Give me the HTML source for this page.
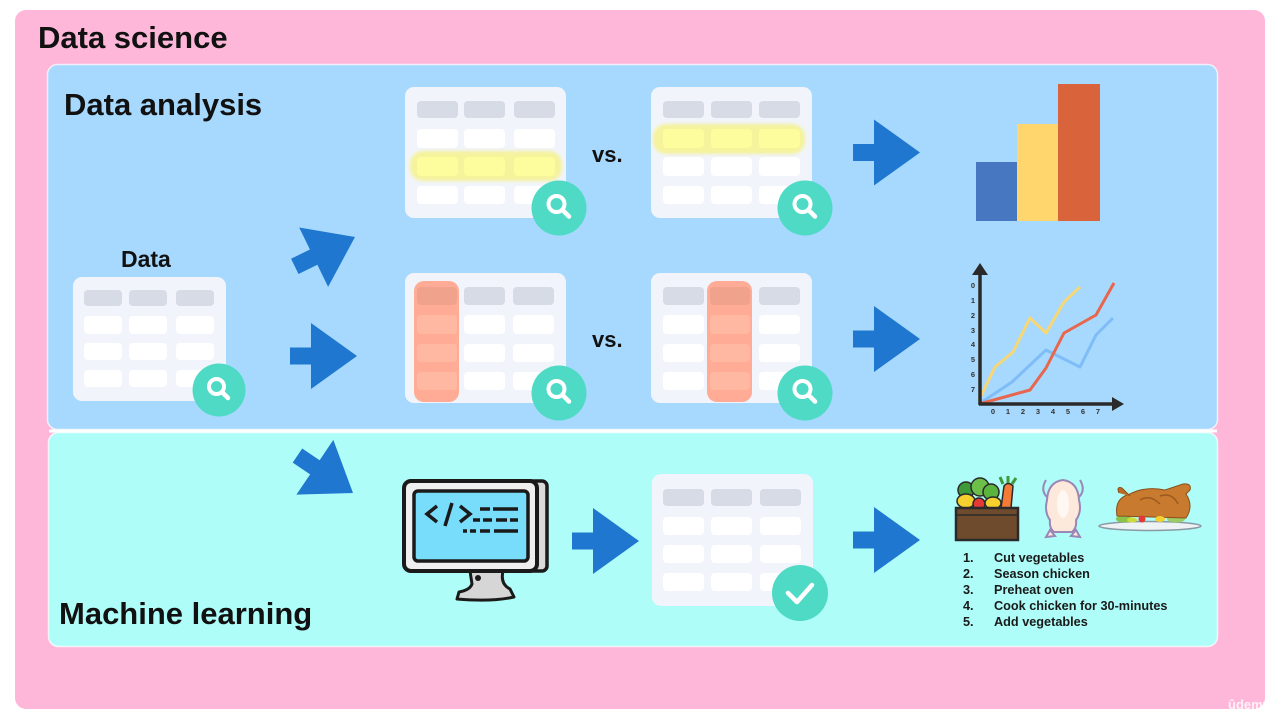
<!DOCTYPE html>
<html><head><meta charset="utf-8"><style>
html,body{margin:0;padding:0;background:#fff;width:1280px;height:720px;overflow:hidden}
svg{display:block}
text{font-family:"Liberation Sans",Arial,sans-serif;font-weight:bold}
</style></head><body>
<svg width="1280" height="720" viewBox="0 0 1280 720" xmlns="http://www.w3.org/2000/svg">
<defs>
<polygon id="arr" points="0,0 -46,-33 -46,-8.5 -67,-8.5 -67,8.5 -46,8.5 -46,33" fill="#1f77cf"/>
<filter id="soft" x="-10%" y="-30%" width="120%" height="160%"><feGaussianBlur stdDeviation="1.5"/></filter>
</defs>
<rect x="0" y="0" width="1280" height="720" fill="#fff"/>
<!-- pink -->
<rect x="15" y="10" width="1250" height="699" rx="11" fill="#ffb7d9"/>
<!-- blue -->
<rect x="47.5" y="64.5" width="1170" height="365" rx="10" fill="#a6d9fd" stroke="#fff" stroke-opacity="0.7" stroke-width="1.5"/>
<!-- cyan -->
<rect x="48.5" y="432.5" width="1169" height="214" rx="10" fill="#aefdf8" stroke="#fff" stroke-opacity="0.7" stroke-width="1.5"/>
<rect x="49" y="429.5" width="1168" height="3" fill="#fff"/>

<text x="38" y="48" font-size="31" fill="#111">Data science</text>
<text x="64" y="115" font-size="31" fill="#111">Data analysis</text>
<text x="59" y="624" font-size="31" fill="#111">Machine learning</text>
<text x="121" y="267" font-size="23" fill="#111">Data</text>
<text x="592" y="162" font-size="22" fill="#111">vs.</text>
<text x="592" y="347" font-size="22" fill="#111">vs.</text>

<!-- Card A: data -->
<g>
<rect x="73" y="277" width="153" height="124" rx="9" fill="#f1f4fa"/>
<g fill="#d7dbe5"><rect x="84" y="290" width="38" height="16" rx="4"/><rect x="129" y="290" width="38" height="16" rx="4"/><rect x="176" y="290" width="38" height="16" rx="4"/></g>
<g fill="#fff">
<rect x="84" y="316" width="38" height="18" rx="4"/><rect x="129" y="316" width="38" height="18" rx="4"/><rect x="176" y="316" width="38" height="18" rx="4"/>
<rect x="84" y="343" width="38" height="17" rx="4"/><rect x="129" y="343" width="38" height="17" rx="4"/><rect x="176" y="343" width="38" height="17" rx="4"/>
<rect x="84" y="370" width="38" height="17" rx="4"/><rect x="129" y="370" width="38" height="17" rx="4"/><rect x="176" y="370" width="38" height="17" rx="4"/>
</g>
</g>

<!-- Card B -->
<g>
<rect x="405" y="87" width="161" height="131" rx="9" fill="#f1f4fa"/>
<g fill="#d7dbe5"><rect x="417" y="101" width="41" height="17" rx="4"/><rect x="464" y="101" width="41" height="17" rx="4"/><rect x="514" y="101" width="41" height="17" rx="4"/></g>
<g fill="#fff">
<rect x="417" y="129" width="41" height="19" rx="4"/><rect x="464" y="129" width="41" height="19" rx="4"/><rect x="514" y="129" width="41" height="19" rx="4"/>
<rect x="417" y="186" width="41" height="18" rx="4"/><rect x="464" y="186" width="41" height="18" rx="4"/><rect x="514" y="186" width="41" height="18" rx="4"/>
</g>
<rect x="410" y="151" width="152" height="30" rx="13" fill="#f5f39c" filter="url(#soft)"/>
<g fill="#fdfd9e"><rect x="417" y="157" width="41" height="19" rx="4"/><rect x="464" y="157" width="41" height="19" rx="4"/><rect x="514" y="157" width="41" height="19" rx="4"/></g>
</g>

<!-- Card C -->
<g>
<rect x="651" y="87" width="161" height="131" rx="9" fill="#f1f4fa"/>
<g fill="#d7dbe5"><rect x="663" y="101" width="41" height="17" rx="4"/><rect x="711" y="101" width="41" height="17" rx="4"/><rect x="759" y="101" width="41" height="17" rx="4"/></g>
<g fill="#fff">
<rect x="663" y="157" width="41" height="19" rx="4"/><rect x="711" y="157" width="41" height="19" rx="4"/><rect x="759" y="157" width="41" height="19" rx="4"/>
<rect x="663" y="186" width="41" height="18" rx="4"/><rect x="711" y="186" width="41" height="18" rx="4"/><rect x="759" y="186" width="41" height="18" rx="4"/>
</g>
<rect x="653" y="124" width="152" height="30" rx="13" fill="#f5f39c" filter="url(#soft)"/>
<g fill="#fdfd9e"><rect x="663" y="129" width="41" height="19" rx="4"/><rect x="711" y="129" width="41" height="19" rx="4"/><rect x="759" y="129" width="41" height="19" rx="4"/></g>
</g>

<!-- Card D -->
<g>
<rect x="405" y="273" width="161" height="130" rx="9" fill="#f1f4fa"/>
<g fill="#d7dbe5"><rect x="464" y="287" width="41" height="18" rx="4"/><rect x="513" y="287" width="41" height="18" rx="4"/></g>
<g fill="#fff">
<rect x="464" y="315" width="41" height="19" rx="4"/><rect x="513" y="315" width="41" height="19" rx="4"/>
<rect x="464" y="344" width="41" height="18" rx="4"/><rect x="513" y="344" width="41" height="18" rx="4"/>
<rect x="464" y="372" width="41" height="18" rx="4"/><rect x="513" y="372" width="41" height="18" rx="4"/>
</g>
<rect x="414" y="281" width="45" height="121" rx="10" fill="#ffab96"/>
<rect x="417" y="287" width="40" height="18" rx="4" fill="#f0a28c"/>
<g fill="#ffb9a2"><rect x="417" y="315" width="40" height="19" rx="4"/><rect x="417" y="344" width="40" height="18" rx="4"/><rect x="417" y="372" width="40" height="18" rx="4"/></g>
</g>

<!-- Card E -->
<g>
<rect x="651" y="273" width="161" height="130" rx="9" fill="#f1f4fa"/>
<g fill="#d7dbe5"><rect x="663" y="287" width="41" height="18" rx="4"/><rect x="759" y="287" width="41" height="18" rx="4"/></g>
<g fill="#fff">
<rect x="663" y="315" width="41" height="19" rx="4"/><rect x="759" y="315" width="41" height="19" rx="4"/>
<rect x="663" y="344" width="41" height="18" rx="4"/><rect x="759" y="344" width="41" height="18" rx="4"/>
<rect x="663" y="372" width="41" height="18" rx="4"/><rect x="759" y="372" width="41" height="18" rx="4"/>
</g>
<rect x="707" y="281" width="45" height="121" rx="10" fill="#ffab96"/>
<rect x="710" y="287" width="40" height="18" rx="4" fill="#f0a28c"/>
<g fill="#ffb9a2"><rect x="710" y="315" width="40" height="19" rx="4"/><rect x="710" y="344" width="40" height="18" rx="4"/><rect x="710" y="372" width="40" height="18" rx="4"/></g>
</g>

<!-- Card F (ML) -->
<g>
<rect x="652" y="474" width="161" height="132" rx="9" fill="#f1f4fa"/>
<g fill="#d7dbe5"><rect x="663" y="489" width="41" height="17" rx="4"/><rect x="711" y="489" width="41" height="17" rx="4"/><rect x="760" y="489" width="41" height="17" rx="4"/></g>
<g fill="#fff">
<rect x="663" y="517" width="41" height="18" rx="4"/><rect x="711" y="517" width="41" height="18" rx="4"/><rect x="760" y="517" width="41" height="18" rx="4"/>
<rect x="663" y="545" width="41" height="18" rx="4"/><rect x="711" y="545" width="41" height="18" rx="4"/><rect x="760" y="545" width="41" height="18" rx="4"/>
<rect x="663" y="573" width="41" height="18" rx="4"/><rect x="711" y="573" width="41" height="18" rx="4"/><rect x="760" y="573" width="41" height="18" rx="4"/>
</g>
</g>

<!-- magnifier badges -->
<g>
<circle cx="219" cy="390" r="26.5" fill="#4fdac5"/>
<circle cx="216.5" cy="386.5" r="7.5" fill="none" stroke="#fff" stroke-width="4"/>
<line x1="222" y1="392" x2="228" y2="398" stroke="#fff" stroke-width="4.5" stroke-linecap="round"/>
</g>
<g>
<circle cx="559" cy="208" r="27.5" fill="#4fdac5"/>
<circle cx="556.5" cy="204" r="8" fill="none" stroke="#fff" stroke-width="4"/>
<line x1="562.5" y1="210" x2="569" y2="216.5" stroke="#fff" stroke-width="4.5" stroke-linecap="round"/>
</g>
<g>
<circle cx="805" cy="208" r="27.5" fill="#4fdac5"/>
<circle cx="802.5" cy="204" r="8" fill="none" stroke="#fff" stroke-width="4"/>
<line x1="808.5" y1="210" x2="815" y2="216.5" stroke="#fff" stroke-width="4.5" stroke-linecap="round"/>
</g>
<g>
<circle cx="559" cy="393" r="27.5" fill="#4fdac5"/>
<circle cx="556.5" cy="389" r="8" fill="none" stroke="#fff" stroke-width="4"/>
<line x1="562.5" y1="395" x2="569" y2="401.5" stroke="#fff" stroke-width="4.5" stroke-linecap="round"/>
</g>
<g>
<circle cx="805" cy="393" r="27.5" fill="#4fdac5"/>
<circle cx="802.5" cy="389" r="8" fill="none" stroke="#fff" stroke-width="4"/>
<line x1="808.5" y1="395" x2="815" y2="401.5" stroke="#fff" stroke-width="4.5" stroke-linecap="round"/>
</g>
<!-- check badge -->
<g>
<circle cx="800" cy="593" r="28" fill="#4fdac5"/>
<polyline points="788,593 797,602 812,585" fill="none" stroke="#fff" stroke-width="4.5" stroke-linecap="round" stroke-linejoin="round"/>
</g>

<!-- arrows -->
<use href="#arr" transform="translate(920,152.5)"/>
<use href="#arr" transform="translate(920,339)"/>
<use href="#arr" transform="translate(357,356)"/>
<use href="#arr" transform="translate(355,237) rotate(-26)"/>
<use href="#arr" transform="translate(353,493) rotate(34)"/>
<use href="#arr" transform="translate(639,541)"/>
<use href="#arr" transform="translate(920,540)"/>

<!-- bar chart -->
<rect x="976" y="162" width="41" height="59" fill="#4677c0"/>
<rect x="1017" y="124" width="41" height="97" fill="#ffd56e"/>
<rect x="1058" y="84" width="42" height="137" fill="#d9633a"/>

<!-- line chart -->
<g>
<polyline points="979,400 995,367 1013,352 1030,318 1046,333 1064,302 1080,287" fill="none" stroke="#f7d675" stroke-width="3" stroke-linejoin="round"/>
<polyline points="979,404 1012,382 1046,350 1080,367 1096,335 1113,318" fill="none" stroke="#7fbdf8" stroke-width="3" stroke-linejoin="round"/>
<polyline points="979,404 1030,390 1046,368 1064,333 1096,315 1114,283" fill="none" stroke="#e8664d" stroke-width="3" stroke-linejoin="round"/>
<line x1="980" y1="273" x2="980" y2="405" stroke="#2a2a2a" stroke-width="3.5"/>
<polygon points="980,263 972,275 988,275" fill="#2a2a2a"/>
<line x1="979" y1="404" x2="1113" y2="404" stroke="#2a2a2a" stroke-width="3.5"/>
<polygon points="1124,404 1112,397 1112,411" fill="#2a2a2a"/>
<g font-size="7.5" fill="#333" text-anchor="middle">
<text x="973" y="288">0</text><text x="973" y="303">1</text><text x="973" y="318">2</text><text x="973" y="333">3</text>
<text x="973" y="347">4</text><text x="973" y="362">5</text><text x="973" y="377">6</text><text x="973" y="392">7</text>
<text x="993" y="414">0</text><text x="1008" y="414">1</text><text x="1023" y="414">2</text><text x="1038" y="414">3</text>
<text x="1053" y="414">4</text><text x="1068" y="414">5</text><text x="1083" y="414">6</text><text x="1098" y="414">7</text>
</g>
</g>

<!-- computer icon -->
<g stroke="#1a1a1a" stroke-linejoin="round">
<path d="M470,571 L503,571 Q500,584 510,589 L514,597 Q492,602 457,599 L459,592 Q470,590 472,584 Z" fill="#d6d6d6" stroke-width="3"/>
<rect x="528" y="481" width="19" height="90" rx="5" fill="#dadada" stroke-width="3.5"/>
<rect x="404" y="481" width="133" height="90" rx="7" fill="#efefef" stroke-width="4"/>
<rect x="414" y="491" width="114" height="70" rx="4" fill="#78dcfb" stroke-width="3.5"/>
</g>
<g fill="none" stroke="#1a1a1a" stroke-width="3.5" stroke-linecap="butt">
<polyline points="437,506 427,514 437,522" stroke-linejoin="miter"/>
<line x1="452" y1="503" x2="445" y2="526"/>
<polyline points="460,506 470,514 460,522" stroke-linejoin="miter"/>
<line x1="480" y1="509" x2="490" y2="509"/><line x1="493" y1="509" x2="518" y2="509"/>
<line x1="473" y1="520" x2="480" y2="520"/><line x1="483" y1="520" x2="492" y2="520"/><line x1="496" y1="520" x2="507" y2="520"/><line x1="510" y1="520" x2="518" y2="520"/>
<line x1="463" y1="531" x2="467" y2="531"/><line x1="470" y1="531" x2="476" y2="531"/><line x1="480" y1="531" x2="490" y2="531"/><line x1="494" y1="531" x2="518" y2="531"/>
</g>
<circle cx="478" cy="578" r="3" fill="#1a1a1a"/>

<!-- vegetables crate -->
<g>
<circle cx="966" cy="490" r="8" fill="#3f9a3a" stroke="#2a2a2a" stroke-width="1.5"/>
<circle cx="980" cy="487" r="9" fill="#6cc04a" stroke="#2a2a2a" stroke-width="1.5"/>
<circle cx="991" cy="492" r="8" fill="#5bb43e" stroke="#2a2a2a" stroke-width="1.5"/>
<path d="M1001,508 L1004,486 Q1008,481 1013,486 L1011,508 Z" fill="#f47a35" stroke="#2a2a2a" stroke-width="1.5"/>
<path d="M1003,484 L1000,477 M1008,483 L1008,476 M1012,484 L1016,478" stroke="#3f9a3a" stroke-width="3"/>
<ellipse cx="966" cy="501" rx="9" ry="7" fill="#f5d02f" stroke="#2a2a2a" stroke-width="1.5"/>
<circle cx="979" cy="504" r="6" fill="#e53935" stroke="#2a2a2a" stroke-width="1.5"/>
<ellipse cx="993" cy="503" rx="8" ry="6" fill="#f5d02f" stroke="#2a2a2a" stroke-width="1.5"/>
<rect x="956" y="508" width="62" height="32" fill="#6e4b2c" stroke="#2a2a2a" stroke-width="2.5"/>
<line x1="956" y1="515" x2="1018" y2="515" stroke="#2a2a2a" stroke-width="1.5"/>
</g>
<!-- raw chicken -->
<g fill="#fde9dc" stroke="#9b86b5" stroke-width="2">
<path d="M1046,480 Q1040,490 1047,497 M1080,480 Q1086,490 1079,497" fill="none"/>
<path d="M1050,530 L1046,537 L1055,536 Z M1076,530 L1080,537 L1071,536 Z"/>
<path d="M1063,480 Q1048,482 1047,500 Q1044,512 1050,520 Q1049,528 1054,532 L1072,532 Q1077,528 1076,520 Q1082,512 1079,500 Q1078,482 1063,480 Z"/>
<ellipse cx="1063" cy="504" rx="6" ry="14" fill="#fff7f2" stroke="none"/>
</g>
<!-- roast chicken -->
<g>
<ellipse cx="1150" cy="526" rx="51" ry="4.5" fill="#eef2f4" stroke="#8a9aa5" stroke-width="1.5"/>
<ellipse cx="1124" cy="519" rx="8" ry="3.5" fill="#8bc34a"/>
<ellipse cx="1176" cy="519" rx="9" ry="3.5" fill="#9ccc65"/>
<path d="M1117,516 Q1114,498 1130,494 Q1145,486 1165,490 L1183,484 Q1192,483 1190,490 L1186,494 Q1194,506 1186,518 Z" fill="#c87a2f" stroke="#8a4f1a" stroke-width="1"/>
<path d="M1130,496 L1122,488 Q1116,486 1119,493" fill="#b96c25" stroke="#8a4f1a" stroke-width="1"/>
<path d="M1140,500 Q1150,494 1160,504 M1160,496 Q1172,492 1178,504" fill="none" stroke="#9a5a1e" stroke-width="1.5"/>
<circle cx="1142" cy="519" r="3.5" fill="#e53935"/>
<ellipse cx="1160" cy="519" rx="5" ry="3" fill="#f5d02f"/>
<ellipse cx="1132" cy="520" rx="5" ry="2.5" fill="#cddc39"/>
</g>

<!-- list -->
<g font-size="12.7" fill="#1a1a1a">
<text x="963" y="562">1.</text><text x="994" y="562">Cut vegetables</text>
<text x="963" y="578">2.</text><text x="994" y="578">Season chicken</text>
<text x="963" y="594">3.</text><text x="994" y="594">Preheat oven</text>
<text x="963" y="610">4.</text><text x="994" y="610">Cook chicken for 30-minutes</text>
<text x="963" y="626">5.</text><text x="994" y="626">Add vegetables</text>
</g>

<text x="1228" y="709" font-size="13" fill="#ffffff" fill-opacity="0.8" font-weight="normal">ûdemy</text>
</svg>
</body></html>
